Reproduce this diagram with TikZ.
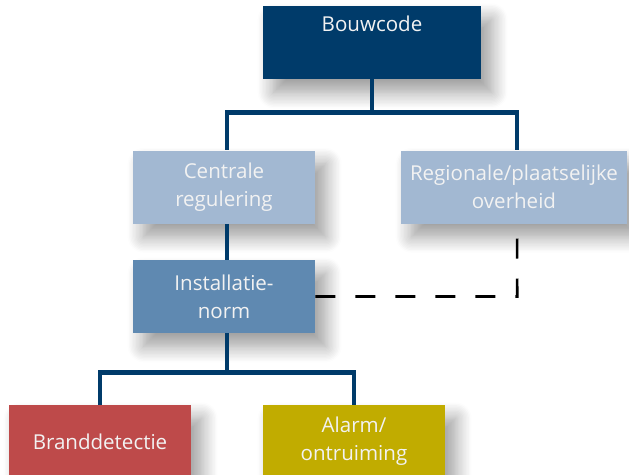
\documentclass[tikz,border=0pt]{standalone}
\usepackage{fontspec}
\setmainfont{Open Sans}
\usetikzlibrary{shadows.blur}
\definecolor{navy}{HTML}{003B6A}
\definecolor{lightblue}{HTML}{A2B8D2}
\definecolor{midblue}{HTML}{5F89B1}
\definecolor{brandred}{HTML}{BE4A4A}
\definecolor{alarmyellow}{HTML}{C1AC00}
\definecolor{txt}{HTML}{F2F2F2}
\tikzset{
  boxfont/.style={font=\fontsize{15.4}{21}\selectfont},
  box/.style={draw=none, minimum width=182*0.75pt, minimum height=73*0.75pt, inner sep=0pt,
    text=txt, align=center, boxfont,
    blur shadow={shadow xshift=8pt, shadow yshift=-10pt, shadow blur radius=12pt, shadow opacity=40, shadow blur steps=12}},
  conn/.style={draw=navy, line width=3.5pt},
  dashconn/.style={draw=black, line width=1.9pt, dash pattern=on 15pt off 15pt}
}
\begin{document}
\begin{tikzpicture}[x=0.75pt, y=-0.75pt]
\useasboundingbox (0,0) rectangle (629,475);
\node[box, fill=navy, minimum width=218*0.75pt] (bouw) at (372,42.5) {};
\node[box, fill=lightblue] (cen) at (224,187) {Centrale\\regulering};
\node[box, fill=lightblue, minimum width=226*0.75pt] (reg) at (514,187) {Regionale/plaatselijke\\overheid};
\node[box, fill=midblue] (inst) at (224,296.5) {Installatie-\\norm};
\node[box, fill=brandred] (brand) at (100,441.5) {Branddetectie};
\node[box, fill=alarmyellow] (alarm) at (354,441.5) {Alarm/\\ontruiming};
\node[text=txt, boxfont, anchor=center] (bouwtxt) at (372,24) {Bouwcode};
\draw[conn] (bouw.south) -- ++(0,33) coordinate (j1) -| ([xshift=3*0.75pt]cen.north);
\draw[conn] (j1) -| ([xshift=3*0.75pt]reg.north);
\draw[conn] ([xshift=3*0.75pt]cen.south) -- ([xshift=3*0.75pt]inst.north);
\draw[conn] ([xshift=3*0.75pt]inst.south) -- ++(0,39) coordinate (j2) -| (brand.north);
\draw[conn] (j2) -| (alarm.north);
\draw[dashconn] (inst.east) -- ++(202,0) coordinate (c1) -- ([xshift=3*0.75pt]reg.south);
\end{tikzpicture}
\end{document}
